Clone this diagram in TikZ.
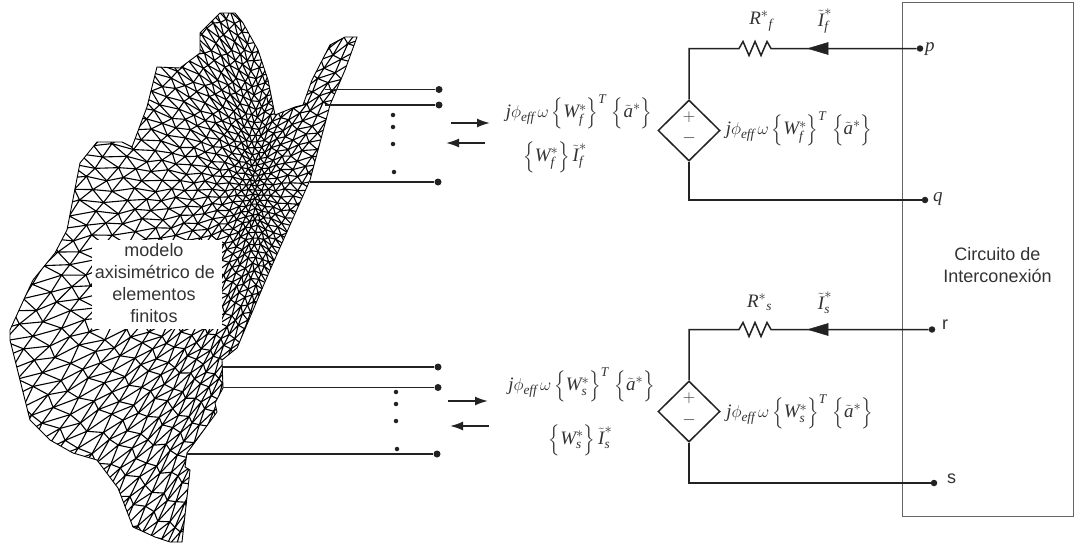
\documentclass[tikz,border=0pt]{standalone}
\usepackage{amsmath}
\usepackage{fontspec}
\setmainfont{Liberation Serif}
\newfontfamily\arialf{Liberation Sans}
\definecolor{ink}{HTML}{222222}
\definecolor{txt}{HTML}{333333}
\newcommand\Ti[1]{\textit{#1}}
\newcommand\Br[1]{\left\{\rule[-11pt]{0pt}{28pt}#1\right\}}
\newcommand\Form[1]{$\Ti{j}\phi_{\Ti{eff}}\,\omega\Br{\Ti{W}^{*}_{\Ti{#1}}}^{\Ti{T}}\,\Br{\tilde{\Ti{a}}^{*}}$}
\newcommand\FormB[1]{$\Br{\Ti{W}^{*}_{\Ti{#1}}}\tilde{\Ti{I}}^{*}_{\Ti{#1}}$}
\newcommand\MeshVertex[3]{%
  \pgfmathsetmacro\uu{#1+0.5*#2+0.16*sin(#1*73+#2*131)}%
  \pgfmathsetmacro\vv{0.866*#2+0.16*sin(#1*151+#2*47)}%
  \pgfmathsetmacro\ff{5+0.7*sqrt(\uu*\uu+\vv*\vv/25)}%
  \pgfmathsetmacro\xx{255+\ff*\uu}%
  \pgfmathsetmacro\yy{190+\ff*\vv}%
  \coordinate (#3) at (\xx,\yy);}
\usetikzlibrary{shapes.geometric,arrows.meta,calc}
\tikzset{
 wire/.style={draw=ink,line width=1.5pt},
 lead/.style={draw=ink,line width=1.5pt},
 termdot/.style={circle,fill=ink,inner sep=0pt,minimum size=7pt},
 smalldot/.style={circle,fill=ink,inner sep=0pt,minimum size=4.5pt},
 wiredot/.style={circle,fill=ink,inner sep=0pt,minimum size=6.5pt},
 src/.style={diamond,draw=ink,line width=1.5pt,minimum width=62pt,minimum height=61pt,inner sep=0pt,fill=white},
 mathl/.style={inner sep=0pt,text=txt,font=\fontsize{19}{22}\selectfont},
 signl/.style={inner sep=0pt,text=txt,font=\fontsize{16}{16}\selectfont},
 sansl/.style={inner sep=0pt,text=txt,font=\arialf\fontsize{18}{22}\selectfont,align=center},
 flow/.style={draw=ink,line width=1.8pt,-{Latex[length=13pt,width=9pt]}},
 bighead/.style={fill=ink,draw=ink,line width=0.5pt},
 meshl/.style={draw=black,line width=1.1pt},
}
\begin{document}
\begin{tikzpicture}[x=1pt,y=-1pt]
\useasboundingbox (0,0) rectangle (1079,546);
\fill[white] (0,0) rectangle (1079,546);
% mesh
\begin{scope}
\clip (220,13)--(235,13)--(243,23)--(258,50)--(268,80)--(275,115)--(295,107)--(303,105)--(312,80)--(330,45)--(345,37)--(357,37)--(345,70)--(330,105)--(310,180)--(290,225)--(270,270)--(237,348)--(222,360)--(223,388)--(215,403)--(217,412)--(187,453)--(185,467)--(190,470)--(187,497)--(182,542)--(170,542)--(155,537)--(133,527)--(118,488)--(97,460)--(73,453)--(50,440)--(30,420)--(10,340)--(10,330)--(25,297)--(33,280)--(55,253)--(67,230)--(80,163)--(97,142)--(122,142)--(132,147)--(147,107)--(157,67)--(180,68)--(200,53)--(200,33)--cycle;
\foreach \i in {-40,...,30}{
 \foreach \j in {-28,...,42}{
  \pgfmathtruncatemacro\keep{(2*\i+\j<=26 && 2*\i+\j>=-38) ? 1 : 0}
  \ifnum\keep=1
   \pgfmathtruncatemacro\ip{\i+1}
   \pgfmathtruncatemacro\jp{\j+1}
   \MeshVertex{\i}{\j}{A}
   \MeshVertex{\ip}{\j}{B}
   \MeshVertex{\i}{\jp}{C}
   \draw[meshl] (A)--(B)--(C)--cycle;
  \fi
 }
}
\end{scope}
\draw[black,line width=0.9pt] (220,13)--(235,13)--(243,23)--(258,50)--(268,80)--(275,115)--(295,107)--(303,105)--(312,80)--(330,45)--(345,37)--(357,37)--(345,70)--(330,105)--(310,180)--(290,225)--(270,270)--(237,348)--(222,360)--(223,388)--(215,403)--(217,412)--(187,453)--(185,467)--(190,470)--(187,497)--(182,542)--(170,542)--(155,537)--(133,527)--(118,488)--(97,460)--(73,453)--(50,440)--(30,420)--(10,340)--(10,330)--(25,297)--(33,280)--(55,253)--(67,230)--(80,163)--(97,142)--(122,142)--(132,147)--(147,107)--(157,67)--(180,68)--(200,53)--(200,33)--cycle;
% label over mesh
\node[fill=white,inner sep=0pt,minimum width=130pt,minimum height=89pt] (labelbox) at (157,284.5) {};
\node[sansl] (m1) at (154,250) {modelo};
\node[sansl] (m2) at (155,272) {axisimétrico de};
\node[sansl] (m3) at (154,294) {elementos};
\node[sansl] (m4) at (154,316) {finitos};
% leads
\coordinate (l1) at (325,89.5); \node[termdot] (t1) at (439,89.5) {};
\coordinate (l2) at (325,105); \node[termdot] (t2) at (439,105) {};
\coordinate (l3) at (310,182); \node[termdot] (t3) at (438,182) {};
\coordinate (l4) at (222,367); \node[termdot] (t4) at (438,367) {};
\coordinate (l5) at (223,387.5); \node[termdot] (t5) at (438,387.5) {};
\coordinate (l6) at (187,454); \node[termdot] (t6) at (437,454) {};
\foreach \a/\b in {l1/t1,l2/t2,l3/t3,l4/t4,l5/t5,l6/t6}{\draw[lead] (\a)--(\b);}
\node[smalldot] (d1) at (393,115) {};
\node[smalldot] (d2) at (393,127) {};
\node[smalldot] (d3) at (393,144) {};
\node[smalldot] (d4) at (394,172) {};
\node[smalldot] (d5) at (396,392) {};
\node[smalldot] (d6) at (396,404) {};
\node[smalldot] (d7) at (396,421) {};
\node[smalldot] (d8) at (397,449) {};
% interconnect box
\node[draw=gray!80!black,line width=1pt,minimum width=171pt,minimum height=514pt,inner sep=0pt] (box) at (987.5,259) {};
\node[sansl] (ci) at (997.5,265) {Circuito de\\Interconexión};
% flow arrows
\coordinate (a1s) at (451,123); \coordinate (a1e) at (490,123);
\coordinate (a2s) at (485,143); \coordinate (a2e) at (446,143);
\coordinate (a3s) at (448,401); \coordinate (a3e) at (488,401);
\coordinate (a4s) at (489,426); \coordinate (a4e) at (450,426);
\foreach \a/\b in {a1s/a1e,a2s/a2e,a3s/a3e,a4s/a4e}{\draw[flow] (\a)--(\b);}
% circuit 1
\node[src] (s1) at (689,130.5) {};
\node[signl] (s1p) at (689,117) {$+$};
\node[signl] (s1m) at (689,138) {$-$};
\node[wiredot] (p) at (920,48.5) {};
\node[wiredot] (q) at (925,200) {};
\coordinate (c1a) at (689,48.5); \coordinate (c1b) at (689,200);
\coordinate (r1a) at (735,48.5); \coordinate (r1b) at (775,48.5);
\draw[wire] (s1.north)--(c1a)--(r1a)--++(4,0)--++(4,-7)--++(6,14)--++(6,-14)--++(6,14)--++(6,-14)--++(4,7)--(r1b)--(p);
\draw[wire] (s1.south)--(c1b)--(q);
\coordinate (h1) at (808,48.5);
\fill[bighead] (h1)--++(20,-6)--++(0,12)--cycle;
\node[mathl,anchor=west] (pl) at (925,49) {$\Ti{p}$};
\node[mathl,anchor=west] (ql) at (933,199) {$\Ti{q}$};
\node[mathl] (f1) at (579,112) {\Form{f}};
\node[mathl] (f2) at (555,157) {\FormB{f}};
\node[mathl] (f3) at (799,129) {\Form{f}};
\node[mathl] (r1l) at (761,21) {$\Ti{R}^{*}{}_{\Ti{f}}$};
\node[mathl] (i1l) at (825,21) {$\tilde{\Ti{I}}^{*}_{\Ti{f}}$};
% circuit 2
\node[src] (s2) at (689,411.5) {};
\node[signl] (s2p) at (689,398) {$+$};
\node[signl] (s2m) at (689,420) {$-$};
\node[wiredot] (r) at (932,329.5) {};
\node[wiredot] (s) at (934,483) {};
\coordinate (c2a) at (689,329.5); \coordinate (c2b) at (689,483);
\coordinate (r2a) at (735,329.5); \coordinate (r2b) at (775,329.5);
\draw[wire] (s2.north)--(c2a)--(r2a)--++(4,0)--++(4,-7)--++(6,14)--++(6,-14)--++(6,14)--++(6,-14)--++(4,7)--(r2b)--(r);
\draw[wire] (s2.south)--(c2b)--(s);
\coordinate (h2) at (808,329.5);
\fill[bighead] (h2)--++(20,-6)--++(0,12)--cycle;
\node[sansl,anchor=west] (rl) at (942,325) {r};
\node[sansl,anchor=west] (sl) at (947,479) {s};
\node[mathl] (f4) at (581.5,385) {\Form{s}};
\node[mathl] (f5) at (580.5,440) {\FormB{s}};
\node[mathl] (f6) at (799.5,412) {\Form{s}};
\node[mathl] (r2l) at (759.5,302) {$\Ti{R}^{*}{}_{\Ti{s}}$};
\node[mathl] (i2l) at (825,303) {$\tilde{\Ti{I}}^{*}_{\Ti{s}}$};
\end{tikzpicture}
\end{document}
